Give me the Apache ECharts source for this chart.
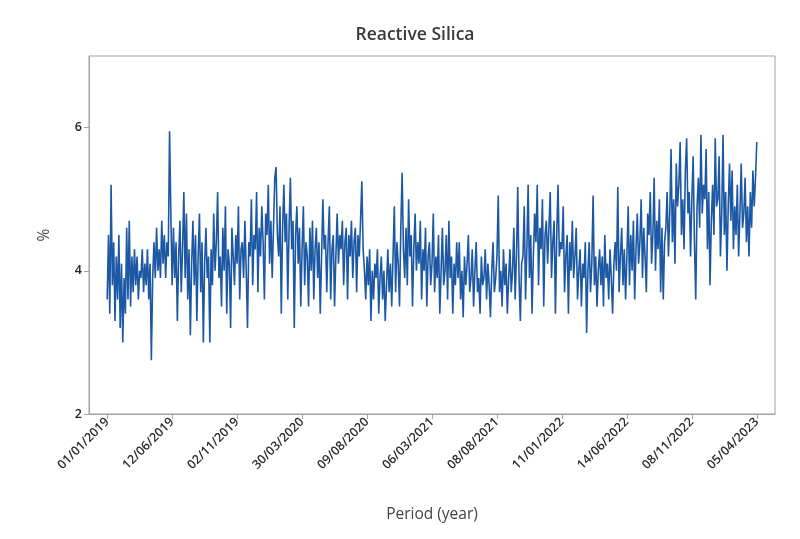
<!DOCTYPE html>
<html>
<head>
<meta charset="utf-8">
<script src="https://cdn.jsdelivr.net/npm/echarts@6/dist/echarts.min.js"></script>
<style>
  html, body { margin: 0; padding: 0; background: #ffffff; }
  #chart { width: 800px; height: 539px; }
</style>
</head>
<body>
<div id="chart"></div>
<script>
// Daily reactive silica readings (%), in observation order
const silica = [
  3.6, 4.5, 3.4, 5.2, 3.8, 4.4, 3.3, 4.2, 3.6, 4.5,
  3.2, 4.1, 3.0, 3.9, 3.4, 4.6, 3.6, 4.7, 3.5, 4.2,
  3.7, 4.3, 3.8, 4.2, 3.6, 4.0, 3.9, 4.3, 3.7, 4.1,
  3.8, 4.3, 3.6, 4.1, 2.75, 3.9, 4.4, 3.9, 4.6, 4.0,
  4.3, 3.9, 4.7, 4.1, 4.5, 3.9, 4.4, 4.2, 5.95, 4.8,
  3.8, 4.6, 3.9, 4.4, 3.3, 4.2, 4.7, 3.7, 4.3, 5.1,
  3.9, 4.8, 3.6, 4.3, 3.1, 4.1, 4.7, 3.8, 4.5, 3.3,
  4.2, 4.8, 3.7, 4.4, 3.0, 4.1, 4.6, 3.9, 4.2, 3.0,
  4.3, 3.8, 4.8, 4.0, 4.4, 5.1, 3.9, 4.2, 3.5, 4.6,
  4.0, 4.9, 3.4, 4.3, 4.1, 3.2, 4.6, 4.2, 3.8, 4.5,
  4.1, 4.9, 3.6, 4.3, 4.4, 3.9, 4.7, 4.0, 3.2, 4.4,
  4.2, 5.0, 3.8, 4.5, 4.3, 5.1, 3.7, 4.6, 4.2, 4.9,
  4.4, 3.6, 4.8, 4.5, 5.2, 4.1, 4.7, 3.9, 4.6, 5.3,
  5.45, 4.5, 4.2, 4.9, 3.4, 4.6, 5.2, 4.4, 4.8, 3.6,
  4.6, 5.3, 4.3, 4.7, 3.2, 4.5, 4.9, 4.1, 4.6, 3.5,
  4.3, 4.9, 3.8, 4.4, 4.2, 3.5, 4.6, 4.0, 4.7, 3.6,
  4.3, 4.6, 3.9, 4.4, 3.4, 4.2, 5.0, 4.3, 4.5, 3.7,
  4.4, 4.9, 3.6, 4.3, 4.5, 3.5, 4.2, 4.8, 4.1, 4.5,
  4.3, 4.7, 3.8, 4.4, 4.6, 3.6, 4.5, 4.2, 4.7, 3.9,
  4.4, 4.6, 3.7, 4.5, 4.2, 4.7, 5.25, 4.3, 4.0, 3.6,
  4.2, 3.8, 4.3, 3.3, 4.0, 3.6, 4.1, 3.9, 4.3, 3.4,
  3.9, 4.2, 3.6, 4.0, 3.3, 3.8, 4.3, 3.7, 4.1, 3.5,
  4.2, 4.9, 3.7, 4.4, 4.1, 3.5, 4.6, 5.37, 4.3, 3.9,
  4.6, 3.8, 5.0, 4.2, 4.5, 3.5, 4.3, 4.8, 4.0, 4.4,
  4.1, 4.7, 3.6, 4.3, 4.0, 4.6, 3.5, 4.2, 4.4, 3.8,
  4.1, 4.8, 3.7, 4.2, 3.9, 4.5, 3.4, 4.0, 4.6, 3.8,
  4.0, 4.5, 3.6, 4.7, 3.9, 4.2, 3.4, 4.1, 3.8, 4.4,
  3.9, 4.4, 3.6, 4.0, 3.35, 4.2, 3.8, 4.1, 4.5, 3.7,
  3.9, 4.3, 3.5, 4.0, 4.4, 3.7, 3.9, 3.4, 4.2, 3.8,
  3.9, 4.3, 3.6, 4.1, 3.8, 3.35, 4.0, 4.4, 3.7, 3.9,
  4.2, 5.05, 3.7, 4.0, 3.5, 4.3, 3.8, 4.1, 3.4, 3.9,
  4.3, 3.7, 4.0, 4.6, 3.6, 4.2, 5.17, 3.9, 3.3, 4.1,
  4.2, 4.9, 3.6, 4.3, 5.2, 3.9, 4.5, 3.4, 4.2, 4.8,
  4.4, 5.2, 3.8, 4.6, 4.3, 5.0, 3.5, 4.5, 4.7, 4.1,
  4.6, 5.1, 3.9, 4.4, 4.7, 3.4, 4.5, 5.2, 4.2, 4.4,
  4.3, 4.9, 3.7, 4.2, 4.5, 3.4, 4.4, 4.0, 4.7, 3.9,
  4.2, 4.6, 3.6, 4.0, 4.3, 3.5, 4.1, 3.9, 4.4, 3.13,
  4.0, 4.4, 3.7, 4.1, 5.05, 3.8, 4.2, 3.5, 4.0, 4.3,
  3.8, 4.2, 3.5, 4.5, 3.9, 4.1, 3.6, 4.3, 3.9, 3.4,
  4.1, 4.4, 4.0, 5.17, 3.7, 4.2, 4.6, 3.8, 4.3, 3.6,
  4.2, 4.9, 3.8, 4.5, 4.0, 4.7, 3.6, 4.3, 4.8, 4.1,
  4.4, 5.0, 3.9, 4.6, 4.2, 3.7, 4.8, 4.5, 5.1, 4.1,
  4.5, 5.3, 4.0, 4.7, 4.3, 5.0, 3.7, 4.6, 3.6, 4.4,
  4.6, 5.1, 4.2, 4.8, 5.7, 4.4, 5.0, 4.1, 5.5, 4.9,
  5.2, 5.8, 4.5, 5.0, 4.3, 5.4, 5.85, 4.8, 5.1, 4.2,
  5.0, 5.6, 4.4, 3.6, 4.9, 5.3, 4.6, 5.9, 4.8, 5.2,
  5.0, 5.7, 4.3, 5.1, 3.8, 4.7, 5.2, 4.5, 5.85, 4.9,
  5.0, 5.6, 4.2, 4.8, 5.9, 4.5, 5.1, 4.0, 4.9, 5.5,
  4.7, 5.4, 4.3, 4.9, 4.5, 5.2, 4.2, 4.8, 5.5, 4.6,
  4.8, 5.3, 4.4, 4.9, 4.2, 5.1, 4.6, 5.4, 4.9, 5.3,
  5.8
];

// Observation index of each labelled tick and its date
const tickIndex = [0, 50, 100, 150, 200, 250, 300, 350, 400, 450, 500];
const tickLabels = [
  '01/01/2019', '12/06/2019', '02/11/2019', '30/03/2020', '09/08/2020',
  '06/03/2021', '08/08/2021', '11/01/2022', '14/06/2022', '08/11/2022',
  '05/04/2023'
];

const yTicks = [2, 4, 6];

const points = silica.map((v, i) => [i, v]);
const labelFor = {};
tickIndex.forEach((idx, k) => { labelFor[idx] = tickLabels[k]; });

const chart = echarts.init(document.getElementById('chart'), null, { renderer: 'canvas' });
const axisGrey = '#a3a3a3';
const font = '"Open Sans", "Noto Sans", sans-serif';

chart.setOption({
  backgroundColor: '#ffffff',
  animation: false,
  title: {
    text: 'Reactive Silica',
    left: 410,
    top: 21,
    textAlign: 'center',
    textStyle: { fontFamily: font, fontSize: 17.5, fontWeight: 600, color: '#3a3a3a' }
  },
  grid: {
    left: 89, right: 25, top: 56, bottom: 125,
    show: true, borderColor: axisGrey, borderWidth: 1, backgroundColor: '#ffffff'
  },
  xAxis: {
    type: 'value',
    min: -14,
    max: 514,
    name: 'Period (year)',
    nameLocation: 'middle',
    nameGap: 93,
    nameTextStyle: { fontFamily: font, fontSize: 15.5, fontWeight: 500, color: '#444444' },
    axisLine: { show: true, onZero: false, lineStyle: { color: axisGrey } },
    axisTick: { show: true, length: 5, customValues: tickIndex, lineStyle: { color: axisGrey } },
    axisLabel: {
      customValues: tickIndex,
      rotate: 45,
      margin: 6,
      fontFamily: font,
      fontSize: 12.5,
      fontWeight: 600,
      color: '#2b2b2b',
      formatter: (v) => labelFor[v] || ''
    },
    splitLine: { show: false }
  },
  yAxis: {
    type: 'value',
    min: 2,
    max: 7,
    name: '%',
    nameLocation: 'middle',
    nameGap: 36,
    nameTextStyle: { fontFamily: font, fontSize: 15.5, color: '#444444' },
    axisLine: { show: true, onZero: false, lineStyle: { color: axisGrey } },
    axisTick: { show: true, length: 5, customValues: yTicks, lineStyle: { color: axisGrey } },
    axisLabel: {
      customValues: yTicks,
      margin: 7,
      fontFamily: font,
      fontSize: 12.5,
      fontWeight: 600,
      color: '#222222'
    },
    splitLine: { show: false }
  },
  series: [{
    type: 'line',
    data: points,
    showSymbol: false,
    symbol: 'none',
    lineStyle: { color: '#1c58a4', width: 1.6 },
    emphasis: { disabled: true }
  }]
});
</script>
</body>
</html>
